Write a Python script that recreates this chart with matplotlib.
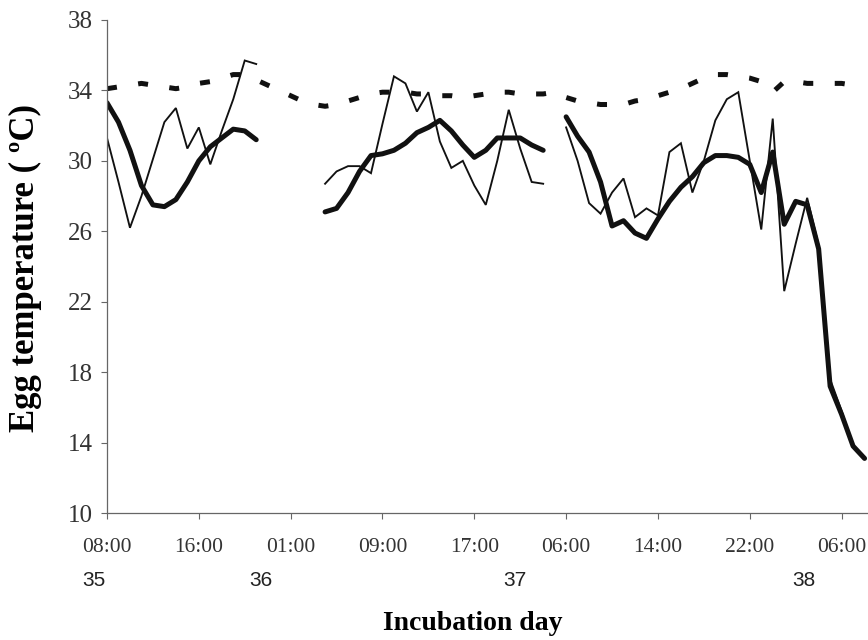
import numpy as np
import matplotlib
matplotlib.use('Agg')
import matplotlib.pyplot as plt

nan = np.nan

# category axis: one point per reading, tick label every 8 readings
time_labels = ['08:00', '16:00', '01:00', '09:00', '17:00', '06:00', '14:00', '22:00', '06:00']
tick_index = [0, 8, 16, 24, 32, 40, 48, 56, 64]
day_labels = ['35', '36', '37', '38']
day_index = [-1.1, 13.4, 35.5, 60.7]
y_ticks = [10, 14, 18, 22, 26, 30, 34, 38]

egg_thin = [
    31.3, 28.8, 26.2, 28.0, 30.1, 32.2, 33.0, 30.7, 31.9, 29.8, 31.7, 33.5, 35.7, 35.5,
    nan, nan, nan, nan, nan,
    28.7, 29.4, 29.7, 29.7, 29.3, 32.1, 34.8, 34.4, 32.8, 33.9, 31.1, 29.6, 30.0, 28.6,
    27.5, 30.0, 32.9, 30.7, 28.8, 28.7,
    nan,
    31.9, 30.0, 27.6, 27.0, 28.2, 29.0, 26.8, 27.3, 26.9, 30.5, 31.0, 28.2, 30.0, 32.3,
    33.5, 33.9, 30.0, 26.1, 32.4, 22.6, 25.3, 27.9, 25.2, 17.6, 15.8, 13.8, 13.1,
]

egg_thick = [
    33.3, 32.2, 30.6, 28.6, 27.5, 27.4, 27.8, 28.8, 30.0, 30.8, 31.3, 31.8, 31.7, 31.2,
    nan, nan, nan, nan, nan,
    27.1, 27.3, 28.2, 29.4, 30.3, 30.4, 30.6, 31.0, 31.6, 31.9, 32.3, 31.7, 30.9, 30.2,
    30.6, 31.3, 31.3, 31.3, 30.9, 30.6,
    nan,
    32.5, 31.4, 30.5, 28.8, 26.3, 26.6, 25.9, 25.6, 26.7, 27.7, 28.5, 29.1, 29.9, 30.3,
    30.3, 30.2, 29.8, 28.2, 30.5, 26.4, 27.7, 27.5, 25.0, 17.2, 15.6, 13.8, 13.1,
]

air_dashed = [
    34.1, 34.2, 34.3, 34.4, 34.3, 34.2, 34.1, 34.2, 34.4, 34.5, 34.7, 34.9, 34.9, 34.6,
    34.3, 34.0, 33.7, 33.4, 33.2,
    33.1, 33.2, 33.4, 33.6, 33.8, 33.9, 33.9, 33.9, 33.8, 33.8, 33.7, 33.7, 33.6, 33.7,
    33.8, 33.9, 33.9, 33.8, 33.8, 33.8,
    33.9,
    33.6, 33.4, 33.3, 33.2, 33.2, 33.2, 33.4, 33.5, 33.7, 33.9, 34.1, 34.4, 34.7, 34.9,
    34.9, 34.8, 34.7, 34.5, 33.9, 34.5, 34.5, 34.4, 34.4, 34.4, 34.4, 34.3, 34.3,
]

x = np.arange(len(egg_thin))

fig = plt.figure(figsize=(8.68, 6.4), dpi=100)
ax = fig.add_axes([107 / 868, 127 / 640, 761 / 868, 493 / 640])

ink = '#111111'
ax.plot(x, air_dashed, color=ink, lw=3.6, dashes=(2.0, 4.3), dash_capstyle='butt')
ax.plot(x, egg_thin, color=ink, lw=1.35, solid_joinstyle='miter')
ax.plot(x, egg_thick, color=ink, lw=3.6, solid_capstyle='round', solid_joinstyle='round')

ax.set_xlim(0, 66.3)
ax.set_ylim(10, 38)
ax.set_yticks(y_ticks)
ax.set_xticks(tick_index)
ax.set_xticklabels(time_labels)

for s in ['top', 'right']:
    ax.spines[s].set_visible(False)
for s in ['left', 'bottom']:
    ax.spines[s].set_color('#666666')
    ax.spines[s].set_linewidth(0.9)

ax.tick_params(axis='y', direction='out', length=4, width=0.8, color='#666666', pad=6,
               labelsize=18, labelcolor='#333333')
ax.tick_params(axis='x', direction='out', length=4, width=0.8, color='#666666', pad=14,
               labelsize=15.5, labelcolor='#333333')
for lab in ax.get_xticklabels() + ax.get_yticklabels():
    lab.set_fontfamily('Liberation Serif')

for lab, pos in zip(day_labels, day_index):
    ax.text(pos, -0.136, lab, transform=ax.get_xaxis_transform(), ha='center', va='center',
            fontsize=15, family='Liberation Sans', color='#222222')

ax.set_xlabel('Incubation day', fontsize=20, fontweight='bold', family='Liberation Serif')
ax.xaxis.set_label_coords(0.481, -0.199)
ax.set_ylabel('Egg temperature ( ºC)', fontsize=25, fontweight='bold', family='Liberation Serif')
ax.yaxis.set_label_coords(-0.086, 0.497)

fig.savefig('out.png', dpi=100)
